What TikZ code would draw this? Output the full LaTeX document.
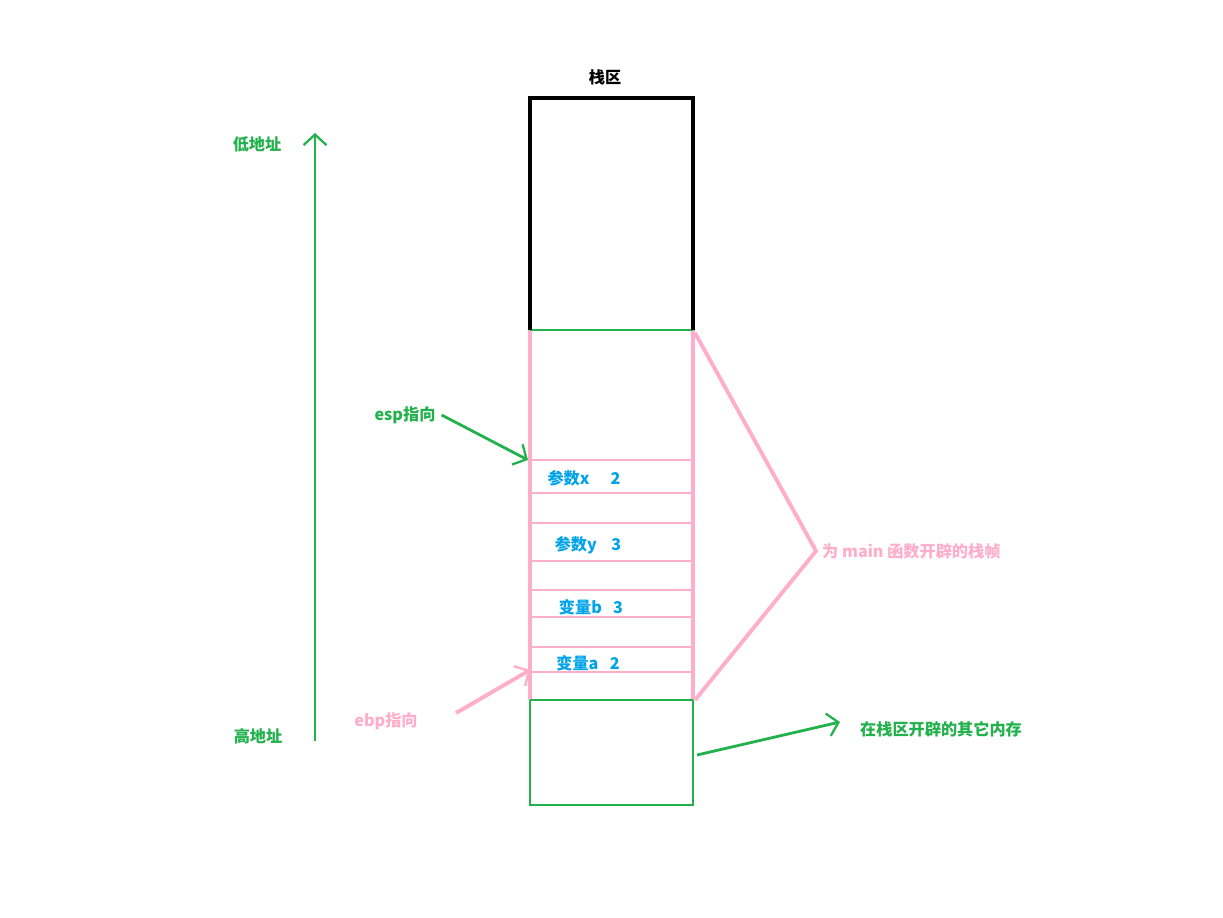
\documentclass[tikz,border=0pt]{standalone}
\usepackage{fontspec}
\setmainfont{Noto Sans CJK SC}
\usetikzlibrary{arrows.meta}
\definecolor{paintgreen}{RGB}{34,177,76}
\definecolor{paintpink}{RGB}{255,174,201}
\definecolor{paintblue}{RGB}{0,162,232}
\begin{document}
\begin{tikzpicture}[x=0.02cm,y=-0.02cm,
  tag/.style={font=\bfseries\fontsize{9.2}{11}\selectfont},
  cell/.style={tag,text=paintblue},
  barb/.style={-{Straight Barb[length=6pt,width=13pt,line width=1.3pt]}}]
  \useasboundingbox (0,0) rectangle (1223,918);
  \def\xl{530}
  \def\xr{693}
  \coordinate (TL) at (\xl,98);
  \coordinate (FL) at (\xl,330);
  \coordinate (FR) at (\xr,330);
  \coordinate (BL) at (\xl,700);
  \coordinate (BR) at (\xr,700);

  % other memory in the stack (bottom)
  \draw[paintgreen,line width=1.6pt] (BL) rectangle (\xr,805);
  % frame of main
  \foreach \y in {460,493,523,561,590,617,647,672}
    \draw[paintpink,line width=1.6pt] (\xl,\y) -- (\xr,\y);
  \draw[paintpink,line width=2.4pt] (FL) -- (BL) (FR) -- (BR);
  \draw[paintgreen,line width=1.6pt] (FL) -- (FR);
  \draw[paintgreen,line width=1.6pt] (BL) -- (BR);
  % top of stack
  \draw[black,line width=1.9pt] (FL) -- (TL) -- (\xr,98) -- (FR);

  \node[tag] (stack) at (605,77) {栈区};

  \node[cell] (px) at (584,478) {参数x\hspace{1.3em}2};
  \node[cell] (py) at (588,545) {参数y\hspace{0.9em}3};
  \node[cell] (vb) at (591,607) {变量b\hspace{0.7em}3};
  \node[cell] (va) at (588,663) {变量a\hspace{0.7em}2};

  % address direction
  \node[tag,text=paintgreen] (low) at (257,144) {低地址};
  \node[tag,text=paintgreen] (high) at (258,736) {高地址};
  \coordinate (up0) at (315,741);
  \coordinate (up1) at (315,133);
  \draw[paintgreen,line width=1.3pt,barb] (up0) -- (up1);

  % registers
  \node[tag,text=paintgreen] (esp) at (405,415) {esp指向};
  \coordinate (espto) at (528,460);
  \draw[paintgreen,line width=1.6pt,barb] (esp.east) -- (espto);
  \node[tag,text=paintpink] (ebp) at (386,721) {ebp指向};
  \coordinate (ebpfrom) at (456,713);
  \coordinate (ebpto) at (530,670);
  \draw[paintpink,line width=2.2pt,barb] (ebpfrom) -- (ebpto);

  % notes on the right
  \node[tag,text=paintpink,anchor=west] (frame) at (816,551) {为 main 函数开辟的栈帧};
  \draw[paintpink,line width=2.2pt] (695,333) -- (frame.west) -- (695,700);
  \node[tag,text=paintgreen,anchor=west] (other) at (854,729) {在栈区开辟的其它内存};
  \coordinate (otherfrom) at (697,755);
  \coordinate (otherto) at (840,722);
  \draw[paintgreen,line width=1.6pt,barb] (otherfrom) -- (otherto);
\end{tikzpicture}
\end{document}
